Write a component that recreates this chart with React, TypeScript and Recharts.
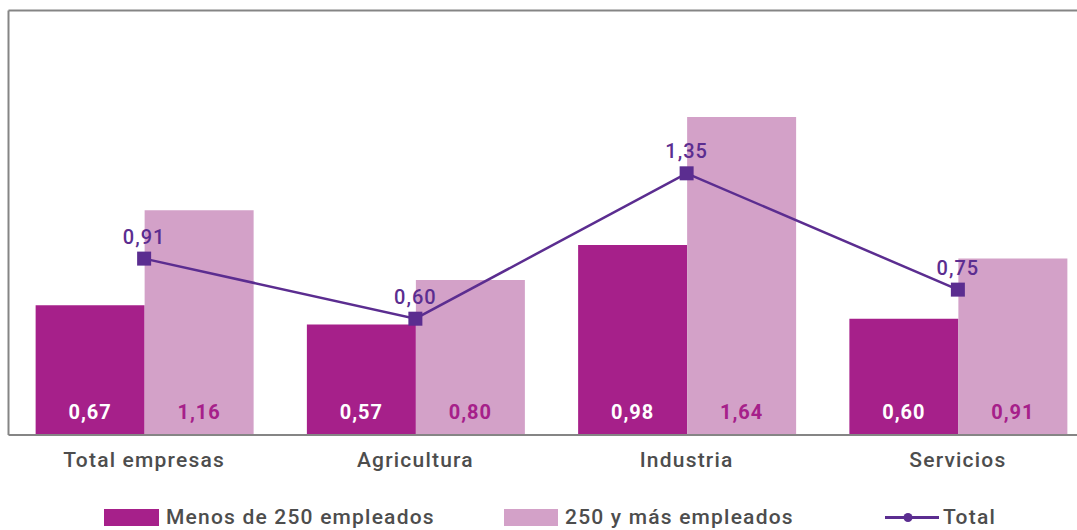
import { ComposedChart, Bar, Line, XAxis, YAxis, LabelList, ReferenceLine, Legend } from 'recharts';

const categories = ['Total empresas', 'Agricultura', 'Industria', 'Servicios'];
const menos250 = [0.67, 0.57, 0.98, 0.6];
const mas250 = [1.16, 0.8, 1.64, 0.91];
const total = [0.91, 0.6, 1.35, 0.75];

const data = categories.map((name, i) => ({ name, menos: menos250[i], mas: mas250[i], total: total[i] }));

const FONT = 'Roboto, "Open Sans", sans-serif';
const C_MENOS = '#a6208a';
const C_MAS = '#d3a1c8';
const C_LINE = '#5b2d90';
const C_TEXT = '#4d4d4d';
const C_AXIS = '#858585';
const Y_MAX = 2.19;

const fmt = (v: number) => v.toFixed(2).replace('.', ',');

const barLabel = (color: string) => (props: any) => {
  const { x, y, width, height, value } = props;
  return (
    <text x={x + width / 2} y={y + height - 16} textAnchor="middle" fill={color}
      style={{ fontFamily: FONT, fontSize: 20, fontWeight: 700, letterSpacing: 1 }}>
      {fmt(value)}
    </text>
  );
};

const SquareDot = (props: any) => {
  const { cx, cy } = props;
  return <rect x={cx - 7} y={cy - 7} width={14} height={14} fill={C_LINE} />;
};

const lineLabel = (props: any) => {
  const { x, y, value } = props;
  return (
    <text x={x} y={y - 15} textAnchor="middle" fill={C_LINE}
      style={{ fontFamily: FONT, fontSize: 20, fontWeight: 500, letterSpacing: 1 }}>
      {fmt(value)}
    </text>
  );
};

const LegendContent = () => (
  <div style={{ position: 'relative', height: 35, fontFamily: FONT, fontSize: 21, fontWeight: 500, color: C_TEXT, letterSpacing: 1.2, whiteSpace: 'nowrap' }}>
    <div style={{ position: 'absolute', left: 104, top: 14, width: 55, height: 17, background: C_MENOS }} />
    <span style={{ position: 'absolute', left: 166, top: 10 }}>Menos de 250 empleados</span>
    <div style={{ position: 'absolute', left: 504, top: 14, width: 54, height: 17, background: C_MAS }} />
    <span style={{ position: 'absolute', left: 565, top: 10 }}>250 y más empleados</span>
    <svg style={{ position: 'absolute', left: 885, top: 14 }} width={54} height={17}>
      <line x1={0} y1={8.5} x2={54} y2={8.5} stroke={C_LINE} strokeWidth={3} />
      <circle cx={23} cy={8.5} r={4.5} fill={C_LINE} />
    </svg>
    <span style={{ position: 'absolute', left: 943, top: 10 }}>Total</span>
  </div>
);

const CatTick = (props: any) => {
  const { x, y, payload } = props;
  return (
    <text x={x} y={y + 24} textAnchor="middle" fill={C_TEXT}
      style={{ fontFamily: FONT, fontSize: 21, fontWeight: 500, letterSpacing: 1.2 }}>
      {payload.value}
    </text>
  );
};

export default function App() {
  return (
    <div style={{ position: 'absolute', left: 0, top: 0, width: 1077, height: 530, overflow: 'hidden', background: '#fff' }}>
      <div style={{ position: 'absolute', left: 0, top: 0 }}>
        <ComposedChart width={1102} height={530} data={data}
          margin={{ top: 10.5, right: 8.5, left: 7.5, bottom: 0 }}
          barCategoryGap="10%" barGap={0}>
          <XAxis dataKey="name" height={60} tick={<CatTick />} tickLine={false}
            axisLine={{ stroke: C_AXIS, strokeWidth: 2 }} />
          <YAxis domain={[0, Y_MAX]} width={1} tick={false} tickLine={false}
            axisLine={{ stroke: C_AXIS, strokeWidth: 2 }} />
          <ReferenceLine y={Y_MAX} stroke={C_AXIS} strokeWidth={2} />
          <Legend verticalAlign="bottom" height={35} content={<LegendContent />}
            wrapperStyle={{ left: 0, width: 1100 }} />
          <Bar dataKey="menos" name="Menos de 250 empleados" fill={C_MENOS} isAnimationActive={false}>
            <LabelList dataKey="menos" content={barLabel('#ffffff')} />
          </Bar>
          <Bar dataKey="mas" name="250 y más empleados" fill={C_MAS} isAnimationActive={false}>
            <LabelList dataKey="mas" content={barLabel(C_MENOS)} />
          </Bar>
          <Line dataKey="total" name="Total" stroke={C_LINE} strokeWidth={2.5} dot={<SquareDot />}
            activeDot={false} isAnimationActive={false}>
            <LabelList dataKey="total" content={lineLabel} />
          </Line>
        </ComposedChart>
      </div>
    </div>
  );
}
